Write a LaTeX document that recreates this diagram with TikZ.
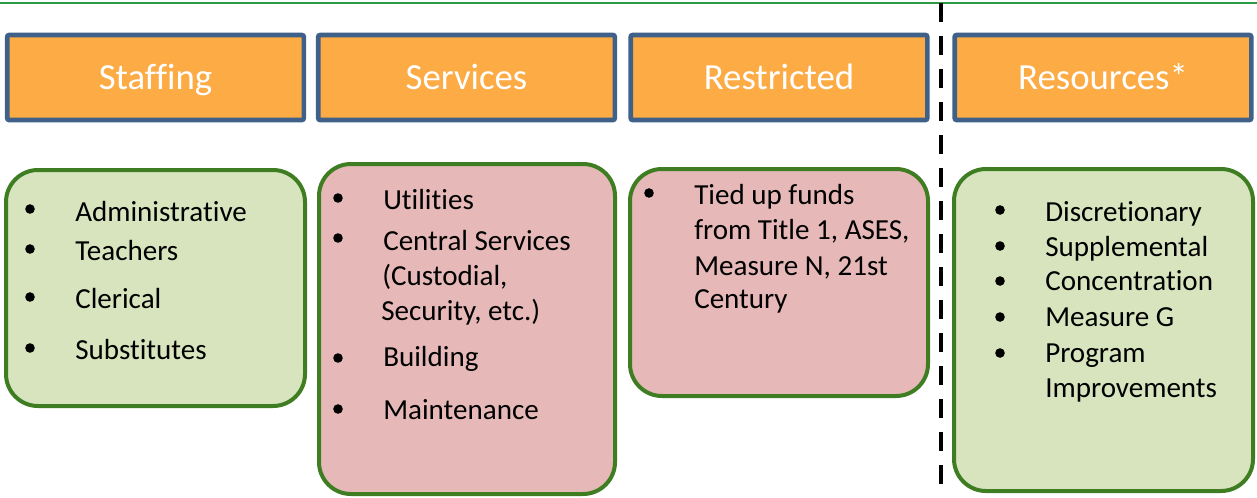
\documentclass[tikz,border=0pt]{standalone}
\usepackage{fontspec}
\setmainfont{Carlito}[Ligatures={NoCommon}]
\usetikzlibrary{positioning}
\definecolor{hdrorange}{HTML}{FDAB45}
\definecolor{hdrblue}{HTML}{3F6089}
\definecolor{boxgreen}{HTML}{3F7D22}
\definecolor{fillgreen}{HTML}{D7E4BD}
\definecolor{fillpink}{HTML}{E6B9B8}
\definecolor{rulegreen}{HTML}{2A9A44}

\begin{document}
\begin{tikzpicture}[
    x=0.75pt, y=-0.75pt,
    header/.style={rectangle, draw=hdrblue, line width=3.5pt, fill=hdrorange, rounded corners=1.5pt, minimum width=222.5pt, minimum height=63.75pt, text=white, font=\fontsize{27.6}{33}\selectfont, text height=18pt, text depth=0pt},
    listbox/.style={rectangle, draw=boxgreen, line width=3pt, rounded corners=24pt, inner sep=0pt},
    greenbox/.style={listbox, fill=fillgreen},
    pinkbox/.style={listbox, fill=fillpink},
    item/.style={anchor=base west, inner sep=0pt, font=\fontsize{21.8}{26}\selectfont},
    dot/.style={circle, fill=black, inner sep=0pt, minimum size=7.2pt}
]
\useasboundingbox (0,0) rectangle (1257,497);

% Top rule and divider
\coordinate (ruleL) at (0,3);
\coordinate (ruleR) at (1257,3);
\draw [rulegreen, line width=1.8pt] (ruleL) -- (ruleR);
\coordinate (divtop) at (941,3);
\coordinate (divbot) at (941,497);
\draw [line width=3pt, dash pattern=on 14.25pt off 10.5pt] (divtop) -- (divbot);

% Headers
\node (staffhead) [header] at (155.5,77.5) {Staffing};
\node (servhead) [header] at (466.5,77.5) {Services};
\node (resthead) [header] at (779,77.5) {Restricted};
\node (reshead) [header] at (1103,77.5) {Resources*};

% Boxes
\node (staffbox) [greenbox, minimum width=224.25pt, minimum height=177pt] at (155.5,288) {};
\node (servbox) [pinkbox, minimum width=222pt, minimum height=247.5pt] at (467,329) {};
\node (restbox) [pinkbox, minimum width=223.5pt, minimum height=170.25pt] at (779,282.5) {};
\node (resbox) [greenbox, minimum width=224.25pt, minimum height=241.5pt] at (1103.5,330) {};

% Staffing items
\node (staffdot1) [dot] at (30,209) {};
\node (staffdot2) [dot] at (30,249) {};
\node (staffdot3) [dot] at (30,297) {};
\node (staffdot4) [dot] at (30,348) {};
\node (staff1) [item] at (75,221) {Administrative};
\node (staff2) [item] at (75,260) {Teachers};
\node (staff3) [item] at (75,308) {Clerical};
\node (staff4) [item] at (75,359) {Substitutes};

% Services items
\node (servdot1) [dot] at (338,198) {};
\node (servdot2) [dot] at (338,238) {};
\node (servdot3) [dot] at (338,358) {};
\node (servdot4) [dot] at (338,409) {};
\node (serv1) [item] at (383,209) {Utilities};
\node (serv2) [item] at (383,250) {Central Services};
\node (serv2b) [item] at (382,285) {(Custodial,};
\node (serv2c) [item] at (381,320) {Security, etc.)};
\node (serv3) [item] at (383,366) {Building};
\node (serv4) [item] at (383,419) {Maintenance};

% Restricted items
\node (restdot1) [dot] at (649,193) {};
\node (rest1) [item] at (694,204) {Tied up funds};
\node (rest1b) [item] at (694,239) {from Title 1, ASES,};
\node (rest1c) [item] at (694,275) {Measure N, 21st};
\node (rest1d) [item] at (694,308) {Century};

% Resources items
\node (resdot1) [dot] at (1000,210) {};
\node (resdot2) [dot] at (1000,246) {};
\node (resdot3) [dot] at (1000,281) {};
\node (resdot4) [dot] at (1000,317) {};
\node (resdot5) [dot] at (1000,353) {};
\node (res1) [item] at (1045,221) {Discretionary};
\node (res2) [item] at (1045,256) {Supplemental};
\node (res3) [item] at (1045,290) {Concentration};
\node (res4) [item] at (1045,326) {Measure G};
\node (res5) [item] at (1045,362) {Program};
\node (res5b) [item] at (1045,397) {Improvements};

\end{tikzpicture}
\end{document}
